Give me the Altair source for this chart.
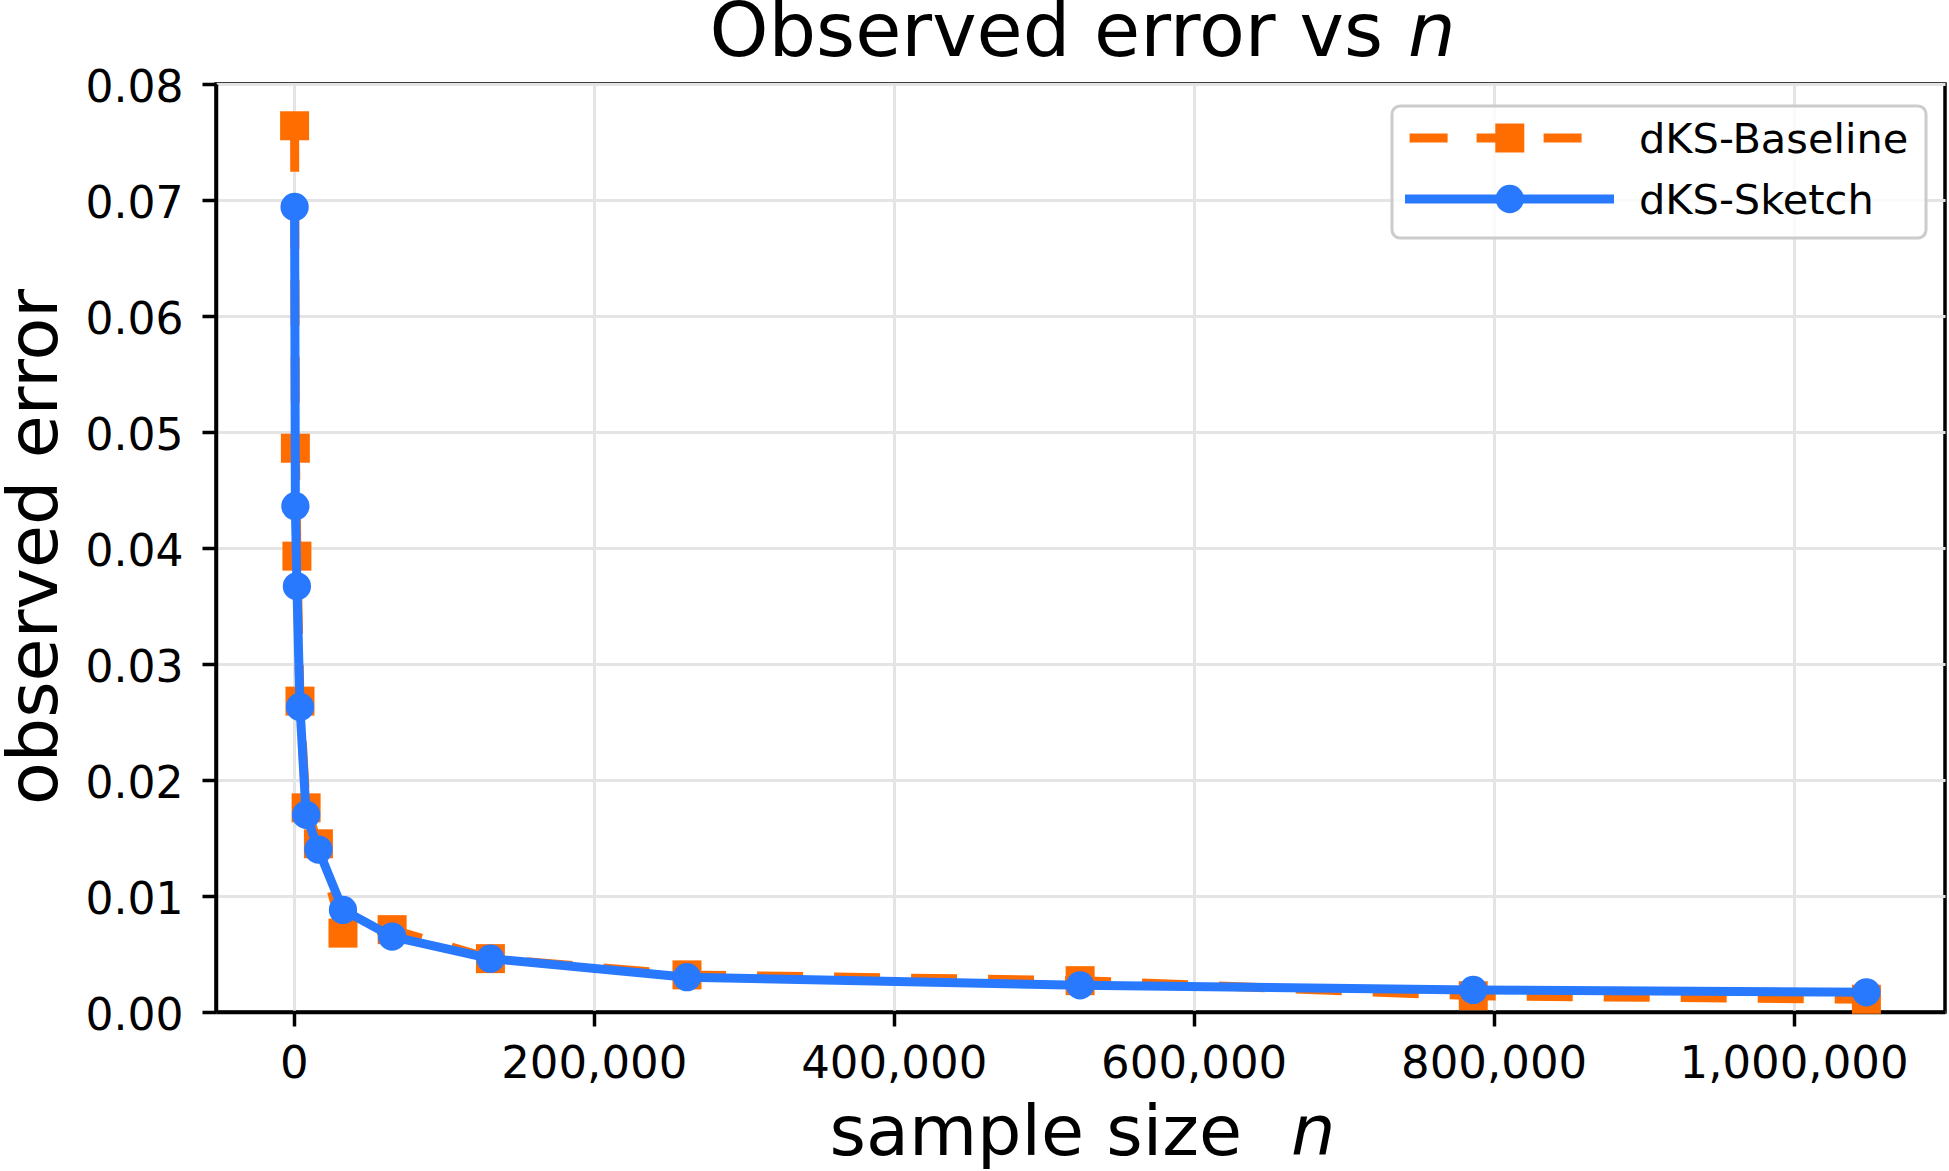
import altair as alt
import pandas as pd

# Sample sizes and observed errors for the two estimators
n_values = [512, 1024, 2048, 4096, 8192, 16384, 32768, 65536,
            131072, 262144, 524288, 786432, 1048576]
baseline_err = [0.0764, 0.0486, 0.0393, 0.0268, 0.0176, 0.0145, 0.0068,
                0.0071, 0.0046, 0.0032, 0.0027, 0.0014, 0.0011]
sketch_err = [0.0694, 0.0436, 0.0367, 0.0263, 0.0170, 0.0140, 0.0088,
              0.0065, 0.0046, 0.0030, 0.0023, 0.0019, 0.0017]

series_names = ["dKS-Baseline", "dKS-Sketch"]
series_colors = ["#FF6D00", "#2979FF"]

x_ticks = [0, 200000, 400000, 600000, 800000, 1000000]
y_ticks = [0.00, 0.01, 0.02, 0.03, 0.04, 0.05, 0.06, 0.07, 0.08]

title_parts = ["Observed error vs", "n"]
x_title_parts = ["sample size", "n"]
y_title = "observed error"

FONT = "DejaVu Sans"
W, H = 1729, 928
LINE_W = 9
CIRCLE_SIZE = 800   # circle symbol: diameter = sqrt(size)
SQUARE_SIZE = 841

df = pd.DataFrame({
    "n": n_values * 2,
    "err": baseline_err + sketch_err,
    "series": [series_names[0]] * len(n_values) + [series_names[1]] * len(n_values),
})

x_enc = alt.X(
    "n:Q",
    scale=alt.Scale(domain=[-51900, 1100980], nice=False, zero=False),
    axis=alt.Axis(values=x_ticks, format=",d", title=None, labelFlush=False,
                  labelOverlap=False, labelPadding=15, labelLimit=0,
                  labelFontSize=45),
)
y_enc = alt.Y(
    "err:Q",
    scale=alt.Scale(domain=[0, 0.08], nice=False, zero=False),
    axis=alt.Axis(values=y_ticks, format=".2f", title=None, labelPadding=19,
                  labelOffset=4, labelOverlap=False, labelLimit=0),
)

base = alt.Chart(df).encode(x=x_enc, y=y_enc)
is_base = alt.datum.series == series_names[0]
is_sketch = alt.datum.series == series_names[1]

baseline_line = base.transform_filter(is_base).mark_line(
    color=series_colors[0], strokeWidth=LINE_W, strokeDash=[46, 31],
    strokeCap="butt", strokeJoin="round")
baseline_pts = base.transform_filter(is_base).mark_point(
    shape="square", filled=True, size=SQUARE_SIZE, opacity=1, color=series_colors[0])
sketch_line = base.transform_filter(is_sketch).mark_line(
    color=series_colors[1], strokeWidth=LINE_W, strokeCap="square", strokeJoin="round")
sketch_pts = base.transform_filter(is_sketch).mark_circle(
    size=CIRCLE_SIZE, opacity=1, color=series_colors[1])


def label(text, x, y, size, align="left", italic=False, angle=0):
    return alt.Chart(pd.DataFrame({"t": [text]})).mark_text(
        font=FONT, fontSize=size, align=align, baseline="alphabetic",
        fontStyle="italic" if italic else "normal", angle=angle, color="black",
    ).encode(text="t:N", x=alt.value(x), y=alt.value(y))


# Title and axis titles (the symbol n is set in italics)
title_a = label(title_parts[0], 1167, -28, 75, align="right")
title_b = label(title_parts[1], 1192, -28, 75, italic=True)
xlab_a = label(x_title_parts[0], 1026, 1071, 70, align="right")
xlab_b = label(x_title_parts[1], 1075, 1071, 70, italic=True)
ylab = label(y_title, -159, 463, 70, align="center", angle=270)

# Legend box with line-and-marker samples
legend_box = alt.Chart(pd.DataFrame({"k": [0]})).mark_rect(
    cornerRadius=8, fill="white", fillOpacity=0.8, stroke="#cccccc", strokeWidth=3,
).encode(x=alt.value(1176), x2=alt.value(1710), y=alt.value(22), y2=alt.value(154))

leg_base_line = alt.Chart(pd.DataFrame({"k": [0]})).mark_rule(
    color=series_colors[0], strokeWidth=LINE_W, strokeDash=[38, 29], strokeCap="butt",
).encode(x=alt.value(1193.6), x2=alt.value(1390), y=alt.value(54))
leg_base_pt = alt.Chart(pd.DataFrame({"k": [0]})).mark_point(
    shape="square", filled=True, size=SQUARE_SIZE, opacity=1, color=series_colors[0],
).encode(x=alt.value(1293.8), y=alt.value(54))
leg_sketch_line = alt.Chart(pd.DataFrame({"k": [0]})).mark_rule(
    color=series_colors[1], strokeWidth=LINE_W, strokeCap="butt",
).encode(x=alt.value(1189), x2=alt.value(1398), y=alt.value(115))
leg_sketch_pt = alt.Chart(pd.DataFrame({"k": [0]})).mark_circle(
    size=CIRCLE_SIZE, opacity=1, color=series_colors[1],
).encode(x=alt.value(1293.8), y=alt.value(115))
leg_text_a = label(series_names[0], 1423, 69, 41.5)
leg_text_b = label(series_names[1], 1423, 130, 41.5)

chart = alt.layer(
    baseline_line, baseline_pts, sketch_line, sketch_pts,
    legend_box, leg_base_line, leg_base_pt, leg_sketch_line, leg_sketch_pt,
    leg_text_a, leg_text_b,
    title_a, title_b, xlab_a, xlab_b, ylab,
).properties(
    width=W, height=H,
    autosize=alt.AutoSizeParams(type="none"),
    padding={"left": 216, "top": 84, "right": 4, "bottom": 159},
    background="white",
).configure_view(
    stroke="black", strokeWidth=3.5,
).configure_axis(
    labelFont=FONT, labelFontSize=44, labelColor="black",
    tickColor="black", tickWidth=3.5, tickSize=14,
    domain=True, domainColor="black", domainWidth=3.5,
    grid=True, gridColor="#e4e4e4", gridWidth=3,
)

chart.save("out.html", embed_options={"renderer": "svg", "actions": False})
